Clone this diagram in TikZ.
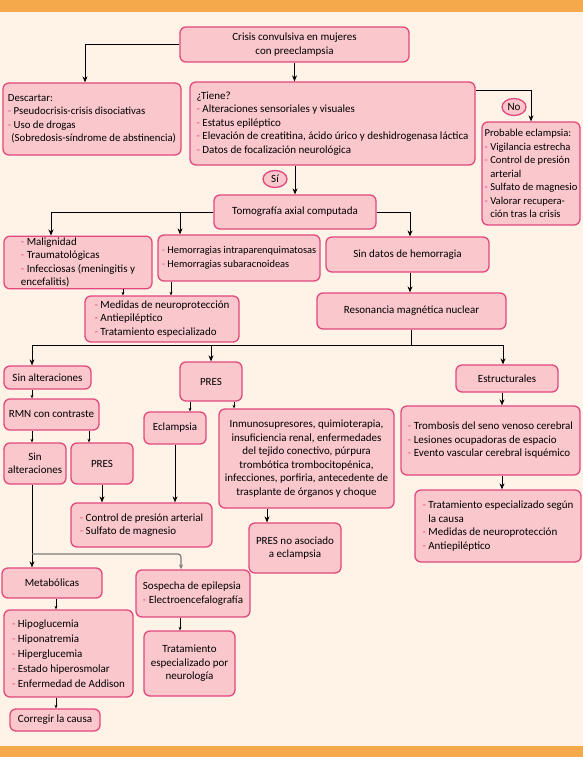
\documentclass[tikz,border=0pt]{standalone}
\usepackage{fontspec}
\setmainfont{Carlito}
\usetikzlibrary{positioning}
\usetikzlibrary{arrows.meta}
\usetikzlibrary{shapes.geometric}
\definecolor{fondo}{HTML}{FEF3E6}
\definecolor{naranja}{HTML}{F5A94B}
\definecolor{rosa}{HTML}{F9C7CC}
\definecolor{borde}{HTML}{E2487E}
\definecolor{gris}{HTML}{7A7A7A}
\newcommand{\guion}{\textcolor{borde}{-}\ }
\tikzset{x=1pt, y=-1pt,
  every node/.style={font=\fontsize{11}{13.5}\selectfont, align=center},
  caja/.style={draw=borde, fill=rosa, line width=1.3pt, rounded corners=6pt, inner sep=1.5pt},
  lista/.style={caja, align=left},
  etiqueta/.style={ellipse, draw=borde, fill=rosa, line width=1.3pt, inner sep=0pt,
    minimum width=24, minimum height=17},
  flecha/.style={draw, line width=0.8pt, -{Stealth[length=6pt,width=5pt]}},
  flechita/.style={draw, line width=0.7pt, -{Stealth[length=3.5pt,width=3pt]}},
  flechagris/.style={draw=gris, line width=1.2pt, rounded corners=3pt,
    -{Stealth[length=5pt,width=4pt]}}}

\begin{document}
\begin{tikzpicture}
  \useasboundingbox (0,0) rectangle (583,757);
  \fill[fondo] (0,0) rectangle (583,757);
  \fill[naranja] (0,0) rectangle (583,12);
  \fill[naranja] (0,746) rectangle (583,757);

  % primera fila
  \node [caja, minimum width=229, minimum height=35] (crisis) at (294.5,44.5) {Crisis convulsiva en mujeres\\con preeclampsia};
  \node [lista, minimum width=178, minimum height=72, font=\fontsize{10.8}{13.5}\selectfont] (descartar) at (92,119) {Descartar:\\
    \guion Pseudocrisis-crisis disociativas\\
    \guion Uso de drogas\\
    \hspace{3.5pt}(Sobredosis-síndrome de abstinencia)};
  \node [lista, minimum width=285, minimum height=83] (tiene) at (332.5,123.5) {¿Tiene?\\
    \guion Alteraciones sensoriales y visuales\\
    \guion Estatus epiléptico\\
    \guion Elevación de creatitina, ácido úrico y deshidrogenasa láctica\\
    \guion Datos de focalización neurológica};
  \node [lista, minimum width=98, minimum height=103, inner xsep=1pt, font=\fontsize{10.6}{13.5}\selectfont] (probable) at (531,173.5) {Probable eclampsia:\\
    \guion Vigilancia estrecha\\
    \guion Control de presión\\
    \hphantom{\guion}arterial\\
    \guion Sulfato de magnesio\\
    \guion Valorar recupera-\\
    \hphantom{\guion}ción tras la crisis};
  \node [etiqueta] (no) at (514,107) {No};
  \node [etiqueta] (si) at (275,179) {Sí};

  % tomografia
  \node [caja, minimum width=162, minimum height=34] (tac) at (295,212) {Tomografía axial computada};
  \node [lista, minimum width=148, minimum height=51] (malig) at (78,262.5) {\guion Malignidad\\
    \guion Traumatológicas\\
    \guion Infecciosas (meningitis y\\
    encefalitis)};
  \node [lista, minimum width=162, minimum height=46, inner xsep=1pt, font=\fontsize{10.4}{13.5}\selectfont] (hemo) at (239,258) {\guion Hemorragias intraparenquimatosas\\
    \guion Hemorragias subaracnoideas};
  \node [caja, minimum width=163, minimum height=35] (sindatos) at (407.5,254.5) {Sin datos de hemorragia};
  \node [lista, minimum width=154, minimum height=46] (medidas) at (162,319) {\guion Medidas de neuroprotección\\
    \guion Antiepiléptico\\
    \guion Tratamiento especializado};
  \node [caja, minimum width=189, minimum height=36] (rmnuc) at (411.5,311) {Resonancia magnética nuclear};

  % resonancia
  \node [caja, minimum width=87, minimum height=23] (sinalt) at (47.5,377.5) {Sin alteraciones};
  \node [caja, minimum width=62, minimum height=39] (pres) at (211,381.5) {PRES};
  \node [caja, minimum width=102, minimum height=27] (estruct) at (507,378.5) {Estructurales};
  \node [caja, minimum width=95, minimum height=31, inner xsep=1pt] (rmncon) at (51.5,414.5) {RMN con contraste};
  \node [caja, minimum width=62, minimum height=41, inner xsep=1pt] (sinalt2) at (35,463.5) {Sin\\alteraciones};
  \node [caja, minimum width=62, minimum height=41] (pres2) at (102,463.5) {PRES};
  \node [caja, minimum width=62, minimum height=32] (eclampsia) at (175,428) {Eclampsia};
  \node [caja, minimum width=175, minimum height=99] (inmuno) at (306.5,458.5) {Inmunosupresores, quimioterapia,\\
    insuficiencia renal, enfermedades\\
    del tejido conectivo, púrpura\\
    trombótica trombocitopénica,\\
    infecciones, porfiria, antecedente de\\
    trasplante de órganos y choque};
  \node [lista, minimum width=141, minimum height=44] (control) at (141.5,525) {\guion Control de presión arterial\\
    \guion Sulfato de magnesio};
  \node [caja, minimum width=92, minimum height=50] (presno) at (295,548) {PRES no asociado\\a eclampsia};
  \node [lista, minimum width=179, minimum height=69] (tromb) at (490.5,440.5) {\guion Trombosis del seno venoso cerebral\\
    \guion Lesiones ocupadoras de espacio\\
    \guion Evento vascular cerebral isquémico};
  \node [lista, minimum width=166, minimum height=72] (tratesp) at (498,526) {\guion Tratamiento especializado según\\
    \hphantom{\guion}la causa\\
    \guion Medidas de neuroprotección\\
    \guion Antiepiléptico};

  % sin alteraciones
  \node [caja, minimum width=100, minimum height=30] (metab) at (52,583) {Metabólicas};
  \node [lista, minimum width=114, minimum height=47] (sospecha) at (193,593.5) {Sospecha de epilepsia\\
    \guion Electroencefalografía};
  \node [lista, minimum width=129, minimum height=87, font=\fontsize{11}{15}\selectfont] (hipo) at (68.5,653.5) {\guion Hipoglucemia\\
    \guion Hiponatremia\\
    \guion Hiperglucemia\\
    \guion Estado hiperosmolar\\
    \guion Enfermedad de Addison};
  \node [caja, minimum width=90, minimum height=22] (corregir) at (55,720) {Corregir la causa};
  \node [caja, minimum width=91, minimum height=65] (tratneuro) at (189.5,663.5) {Tratamiento\\
    especializado por\\
    neurología};

  % conectores
  \draw[flecha] (crisis.west) -| ([xshift=-7]descartar.north);
  \draw[flecha] (crisis.south) -- (crisis.south |- tiene.north);
  \draw[flecha] ([yshift=-9]tiene.north east) -| (probable.north);
  \draw[flecha] (tiene.south -| tac.north) -- (tac.north);
  \draw[flecha] (tac.west) -| ([xshift=-27]malig.north);
  \draw[flecha] ([xshift=-59]hemo.north |- tac.west) -- ([xshift=-59]hemo.north);
  \draw[flecha] (tac.east) -| ([xshift=2.5]sindatos.north);
  \draw[flechita] ([xshift=45]malig.south) -- ([xshift=45]malig.south |- medidas.north);
  \draw[flechita] ([xshift=-68]hemo.south) -- ([xshift=-68]hemo.south |- medidas.north);
  \draw[flecha] ([xshift=2.5]sindatos.south) -- ([xshift=2.5]sindatos.south |- rmnuc.north);

  \coordinate (cruce) at (rmnuc.south |- 0,345);
  \draw[line width=0.8pt] (rmnuc.south) -- (cruce);
  \draw[flecha] (cruce) -| ([xshift=-15.5]sinalt.north);
  \draw[flecha] (cruce) -| (pres.north);
  \draw[flecha] (cruce) -| ([xshift=-4]estruct.north);

  \draw[flechita] ([xshift=-15.5]sinalt.south) -- ([xshift=-15.5]sinalt.south |- rmncon.north);
  \draw[flechita] ([xshift=-19.5]rmncon.south) -- ([xshift=-19.5]rmncon.south |- sinalt2.north);
  \draw[flechita] ([xshift=37.5]rmncon.south) -- ([xshift=37.5]rmncon.south |- pres2.north);
  \draw[flechita] ([xshift=-21]pres.south) -- ([xshift=-21]pres.south |- eclampsia.north);
  \draw[flechita] ([xshift=23]pres.south) -- ([xshift=23]pres.south |- inmuno.north);
  \draw[flecha] (eclampsia.south) -- (eclampsia.south |- control.north);
  \draw[flecha] (pres2.south) -- (pres2.south |- control.north);
  \draw[flecha] ([xshift=-39.5]inmuno.south) -- ([xshift=-39.5]inmuno.south |- presno.north);
  \draw[flecha] ([xshift=-5]estruct.south) -- ([xshift=-5]estruct.south |- tromb.north);
  \draw[flecha] ([xshift=-5]estruct.south |- tromb.south) -- ([xshift=-5]estruct.south |- tratesp.north);

  \draw[flecha] ([xshift=-3]sinalt2.south) -- ([xshift=-3]sinalt2.south |- metab.north);
  \draw[flechagris] ([xshift=-3]sinalt2.south |- 0,554) -| ([xshift=-12]sospecha.north);
  \draw[flechita] ([xshift=4]metab.south) -- ([xshift=4]metab.south |- hipo.north);
  \draw[flechita] ([xshift=4]metab.south |- hipo.south) -- ([xshift=4]metab.south |- corregir.north);
  \draw[flechita] ([xshift=-13]sospecha.south) -- ([xshift=-13]sospecha.south |- tratneuro.north);
\end{tikzpicture}
\end{document}
